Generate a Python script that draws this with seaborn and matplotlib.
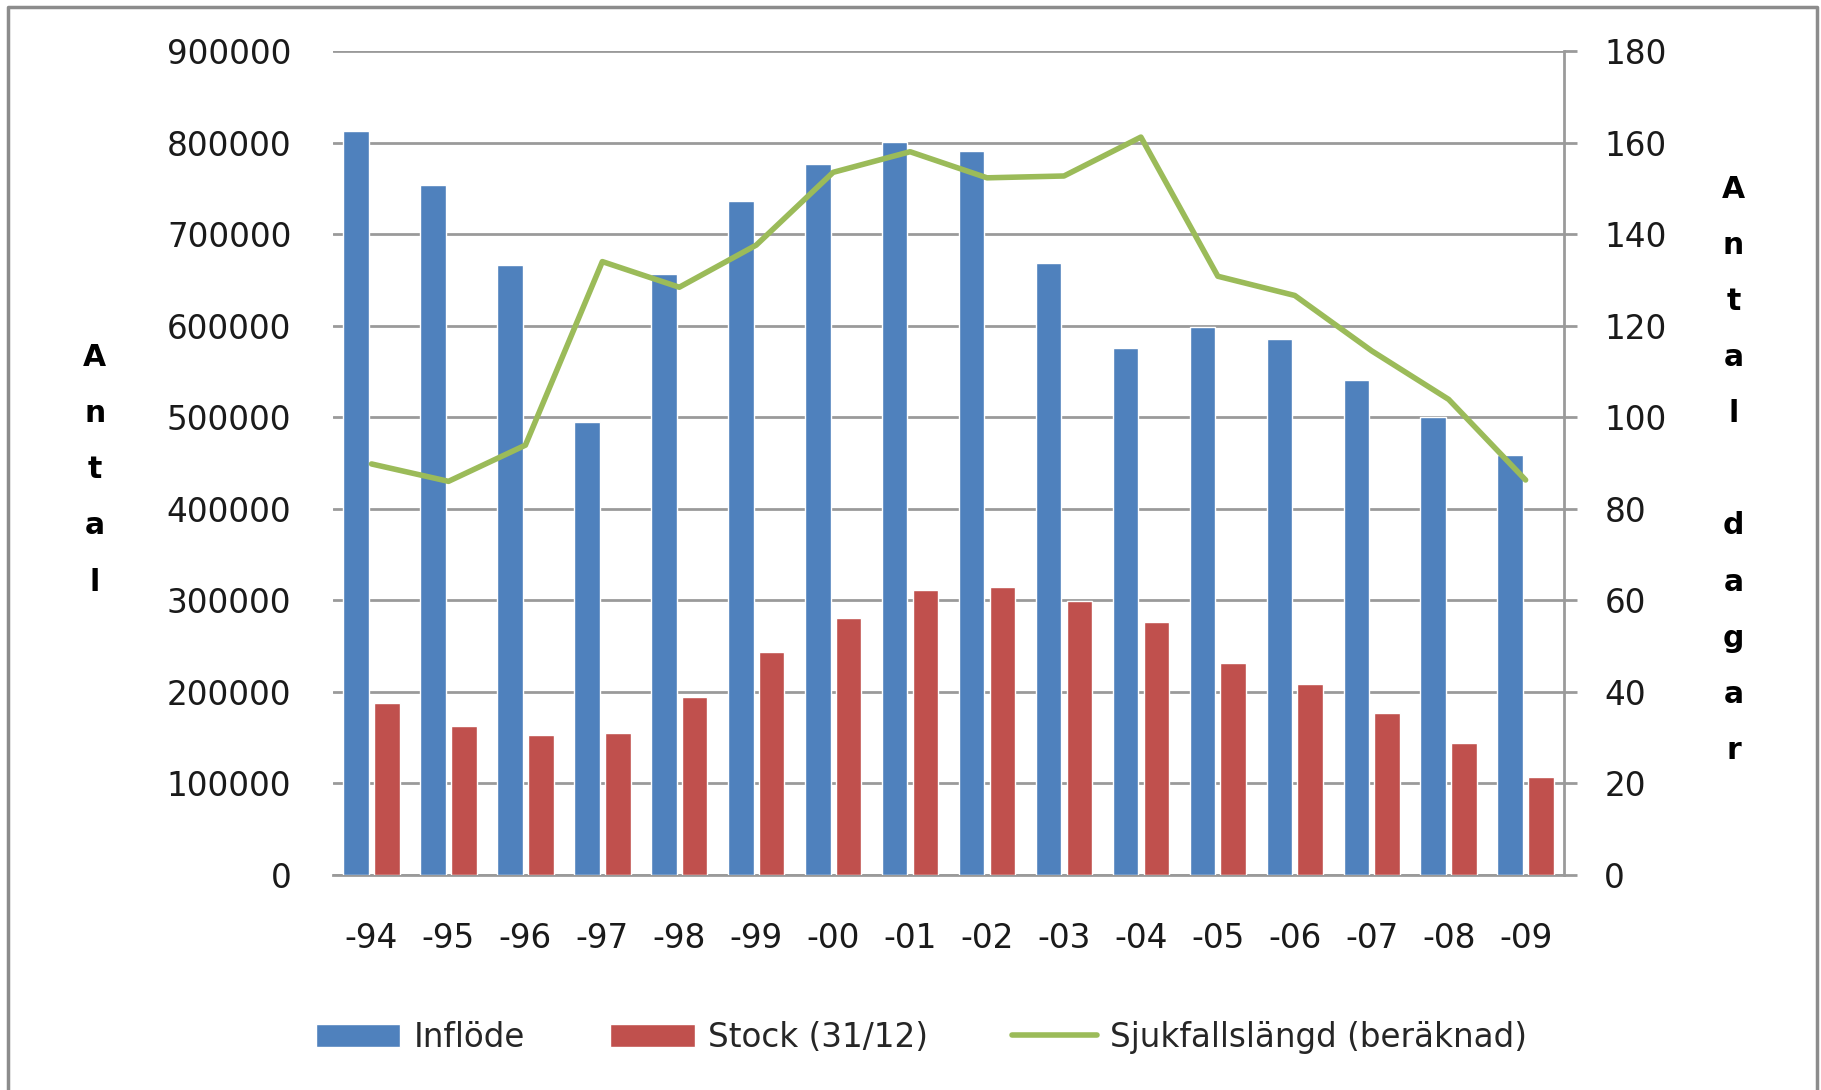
import numpy as np
import pandas as pd
import matplotlib
matplotlib.use("Agg")
import matplotlib.pyplot as plt
from matplotlib.lines import Line2D
import seaborn as sns

years = ["-94", "-95", "-96", "-97", "-98", "-99", "-00", "-01",
         "-02", "-03", "-04", "-05", "-06", "-07", "-08", "-09"]
inflode = [813000, 754000, 666000, 495000, 656000, 736000, 777000, 801000,
           791000, 668000, 576000, 599000, 585000, 541000, 500000, 459000]
stock = [188000, 163000, 153000, 155000, 194000, 244000, 281000, 311000,
         315000, 299000, 276000, 232000, 209000, 177000, 144000, 107000]
sjukfallslangd = [89.8, 86.0, 93.9, 134.0, 128.4, 137.6, 153.5, 158.0,
                  152.3, 152.7, 161.2, 130.8, 126.6, 114.5, 103.9, 86.3]

series_names = ["Inflöde", "Stock (31/12)", "Sjukfallslängd (beräknad)"]
left_ticks = [0, 100000, 200000, 300000, 400000, 500000, 600000, 700000, 800000, 900000]
right_ticks = [0, 20, 40, 60, 80, 100, 120, 140, 160, 180]

BLUE = "#4F81BD"
RED = "#C0504D"
GREEN = "#9BBB59"
GRID = "#9a9a9a"
FS = 23.5

sns.set_theme(style="white")
plt.rcParams["font.family"] = ["DejaVu Sans"]

df = pd.DataFrame({
    "year": years * 2,
    "value": inflode + stock,
    "series": [series_names[0]] * len(years) + [series_names[1]] * len(years),
})
df_line = pd.DataFrame({"pos": np.arange(len(years)), "days": sjukfallslangd})

fig = plt.figure(figsize=(18.21, 10.90), dpi=100)
ax = fig.add_axes([0.1829, 0.1972, 0.8589 - 0.1829, 0.9532 - 0.1972])

sns.barplot(data=df, x="year", y="value", hue="series",
            palette=[BLUE, RED], width=0.8, gap=0.17, ax=ax,
            saturation=1, legend=False, zorder=3)

ax.set_ylim(0, 900000)
ax.set_xlim(-0.5, len(years) - 0.5)
ax.set_yticks(left_ticks)
ax.set_yticklabels([str(t) for t in left_ticks])
ax.yaxis.grid(True, color=GRID, linewidth=2)
ax.set_axisbelow(True)
ax.set_xlabel("")
ax.set_ylabel("")
for s in ["left", "top", "right"]:
    ax.spines[s].set_visible(False)
ax.spines["bottom"].set_color(GRID)
ax.spines["bottom"].set_linewidth(2)
ax.tick_params(axis="y", length=0, pad=30, labelsize=FS, colors="#1a1a1a")
ax.tick_params(axis="x", length=0, pad=34, labelsize=FS, colors="#1a1a1a")

ax2 = ax.twinx()
sns.lineplot(data=df_line, x="pos", y="days", color=GREEN, linewidth=4.0,
             ax=ax2, legend=False, zorder=4)
ax2.set_ylim(0, 180)
ax2.set_xlim(-0.5, len(years) - 0.5)
ax2.set_yticks(right_ticks)
ax2.set_yticklabels([str(t) for t in right_ticks])
ax2.set_xlabel("")
ax2.set_ylabel("")
for s in ["left", "top", "bottom"]:
    ax2.spines[s].set_visible(False)
ax2.spines["right"].set_color(GRID)
ax2.spines["right"].set_linewidth(2)
ax2.tick_params(axis="y", length=9, width=2, color=GRID, pad=20,
                labelsize=FS, labelcolor="#1a1a1a", right=True)
ax2.grid(False)

# vertical stacked axis titles
fig.text(0.052, 0.569, "A\nn\nt\na\nl", ha="center", va="center",
         fontsize=21.5, fontweight="bold", linespacing=2.18, color="black")
fig.text(0.952, 0.569, "A\nn\nt\na\nl\n\nd\na\ng\na\nr", ha="center", va="center",
         fontsize=21.5, fontweight="bold", linespacing=2.18, color="black")

handles = [
    plt.Rectangle((0, 0), 1, 1, facecolor=BLUE),
    plt.Rectangle((0, 0), 1, 1, facecolor=RED),
    Line2D([0], [0], color=GREEN, linewidth=4.0),
]
fig.legend(handles, series_names, loc="center", bbox_to_anchor=(0.506, 0.0486),
           ncol=3, frameon=False, fontsize=FS, handlelength=2.6,
           handleheight=0.7, handletextpad=0.4, columnspacing=2.6)

# outer chart frame
fx0, fx1, fy1 = 8 / 1821, 1817 / 1821, 1 - 7 / 1090
fig.add_artist(Line2D([fx0, fx0, fx1, fx1], [0, fy1, fy1, 0],
                      transform=fig.transFigure, color="#8c8c8c", linewidth=2.5))

fig.savefig("out.png", dpi=100, facecolor="white")
